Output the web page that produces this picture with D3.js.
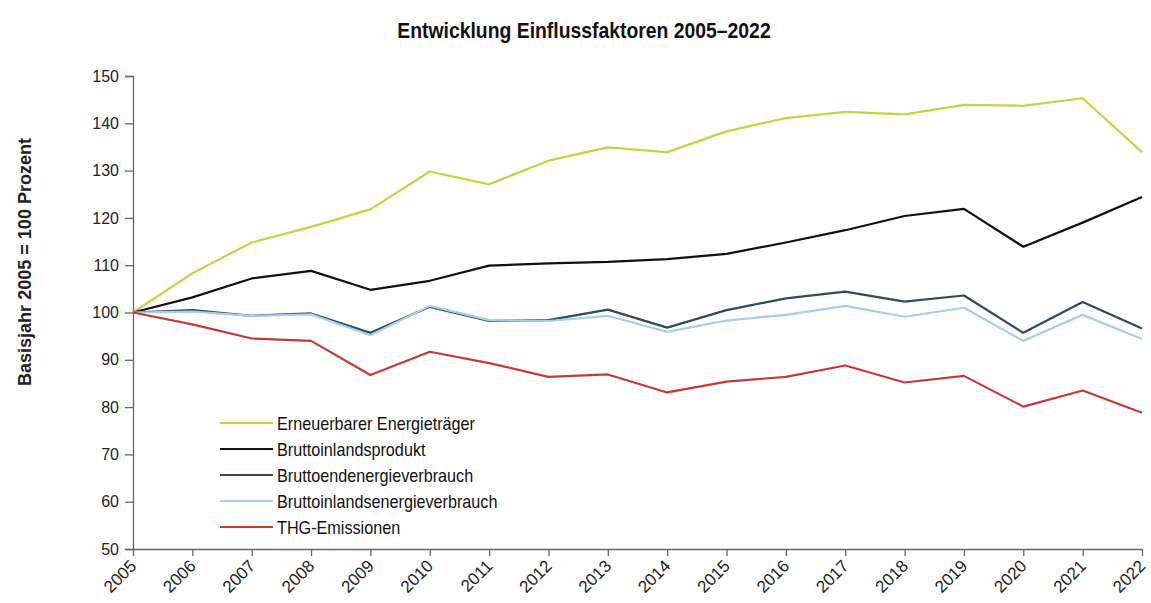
<!DOCTYPE html>
<html>
<head>
<meta charset="utf-8">
<script src="https://cdn.jsdelivr.net/npm/d3@7"></script>
<style>
  html, body { margin: 0; padding: 0; background: #fff; }
  svg { display: block; }
</style>
</head>
<body>
<svg id="chart" width="1151" height="603"></svg>
<script>
// Index values, base year 2005 = 100
const years = [2005, 2006, 2007, 2008, 2009, 2010, 2011, 2012, 2013, 2014, 2015, 2016, 2017, 2018, 2019, 2020, 2021, 2022];

const erneuerbare = [100, 108.3, 114.8, 118.1, 121.8, 129.8, 127.1, 132.1, 134.9, 133.9, 138.3, 141.1, 142.4, 141.9, 143.9, 143.7, 145.3, 133.9];
const bip         = [100, 103.2, 107.2, 108.8, 104.8, 106.7, 109.9, 110.4, 110.7, 111.3, 112.4, 114.8, 117.4, 120.4, 121.9, 113.9, 119.0, 124.4];
const endenergie  = [100, 100.5, 99.3, 99.8, 95.7, 101.2, 98.2, 98.4, 100.6, 96.8, 100.5, 103.0, 104.4, 102.3, 103.6, 95.7, 102.2, 96.6];
const inlandsenergie = [100, 100.2, 99.3, 99.6, 95.2, 101.4, 98.4, 98.2, 99.3, 95.9, 98.3, 99.5, 101.4, 99.1, 101.0, 94.0, 99.5, 94.4];
const thg         = [100, 97.5, 94.5, 94.0, 86.8, 91.7, 89.3, 86.4, 86.9, 83.1, 85.4, 86.4, 88.8, 85.2, 86.6, 80.1, 83.5, 78.8];

const seriesNames = [
  "Erneuerbarer Energieträger",
  "Bruttoinlandsprodukt",
  "Bruttoendenergieverbrauch",
  "Bruttoinlandsenergieverbrauch",
  "THG-Emissionen"
];
const seriesValues = [erneuerbare, bip, endenergie, inlandsenergie, thg];
const seriesColors = ["#c2d544", "#111111", "#2f4b5c", "#a9d0e2", "#c43a3a"];

const yTicks = [50, 60, 70, 80, 90, 100, 110, 120, 130, 140, 150];

const svg = d3.select("#chart");
const margin = { left: 133, right: 9, top: 76, bottom: 54 };
const W = 1151, H = 603;
const condFont = "Liberation Sans, Arial, sans-serif";

const x = d3.scalePoint().domain(years).range([margin.left, W - margin.right]);
const y = d3.scaleLinear().domain([50, 150]).range([H - margin.bottom, margin.top]);

// Narrow text: a regular face squeezed horizontally
function narrowText(parent, tx, ty, rot, sx, str) {
  return parent.append("text")
    .attr("transform", `translate(${tx},${ty}) rotate(${rot}) scale(${sx},1)`)
    .attr("font-family", condFont)
    .text(str);
}

// Title
narrowText(svg, 584, 38, 0, 0.88, "Entwicklung Einflussfaktoren 2005–2022")
  .attr("text-anchor", "middle")
  .attr("font-size", 22).attr("font-weight", "bold")
  .attr("fill", "#111");

// Y axis title
narrowText(svg, 31, 262, -90, 0.95, "Basisjahr 2005 = 100 Prozent")
  .attr("text-anchor", "middle")
  .attr("font-size", 19).attr("font-weight", "bold")
  .attr("fill", "#222");

// Y axis
const yAxis = svg.append("g")
  .attr("transform", `translate(${margin.left},0)`)
  .call(d3.axisLeft(y).tickValues(yTicks).tickSize(8).tickPadding(6).tickFormat(d3.format("d")));
yAxis.select(".domain").attr("stroke", "#666").attr("stroke-width", 1.3);
yAxis.selectAll(".tick line").attr("stroke", "#666").attr("stroke-width", 1.3);
yAxis.selectAll(".tick text")
  .attr("font-family", "Liberation Sans, Arial, sans-serif")
  .attr("font-size", 16).attr("fill", "#222");

// X axis
const xAxis = svg.append("g")
  .attr("transform", `translate(0,${y(50)})`)
  .call(d3.axisBottom(x).tickSize(7).tickSizeOuter(0).tickPadding(4));
xAxis.select(".domain").attr("stroke", "#666").attr("stroke-width", 1.3);
xAxis.selectAll(".tick line").attr("stroke", "#666").attr("stroke-width", 1.3);
xAxis.selectAll(".tick text")
  .attr("font-family", "Liberation Sans, Arial, sans-serif")
  .attr("font-size", 17).attr("fill", "#222")
  .attr("text-anchor", "end")
  .attr("dy", null)
  .attr("y", 0)
  .attr("transform", "translate(4,18) rotate(-45)");

// Lines
const line = d3.line()
  .x((d, i) => x(years[i]))
  .y(d => y(d));

svg.append("g").selectAll("path")
  .data(seriesValues)
  .join("path")
  .attr("d", line)
  .attr("fill", "none")
  .attr("stroke", (d, i) => seriesColors[i])
  .attr("stroke-width", 2.2)
  .attr("stroke-linejoin", "round");

// Legend
const legend = svg.append("g").attr("transform", "translate(220, 423)");
const rows = legend.selectAll("g")
  .data(seriesNames)
  .join("g")
  .attr("transform", (d, i) => `translate(0, ${i * 26})`);
rows.append("line")
  .attr("x1", 0).attr("x2", 53)
  .attr("stroke", (d, i) => seriesColors[i])
  .attr("stroke-width", 2.2);
rows.each(function (d) {
  narrowText(d3.select(this), 57, 6.5, 0, 0.9, d)
    .attr("font-size", 18)
    .attr("fill", "#111");
});
</script>
</body>
</html>
